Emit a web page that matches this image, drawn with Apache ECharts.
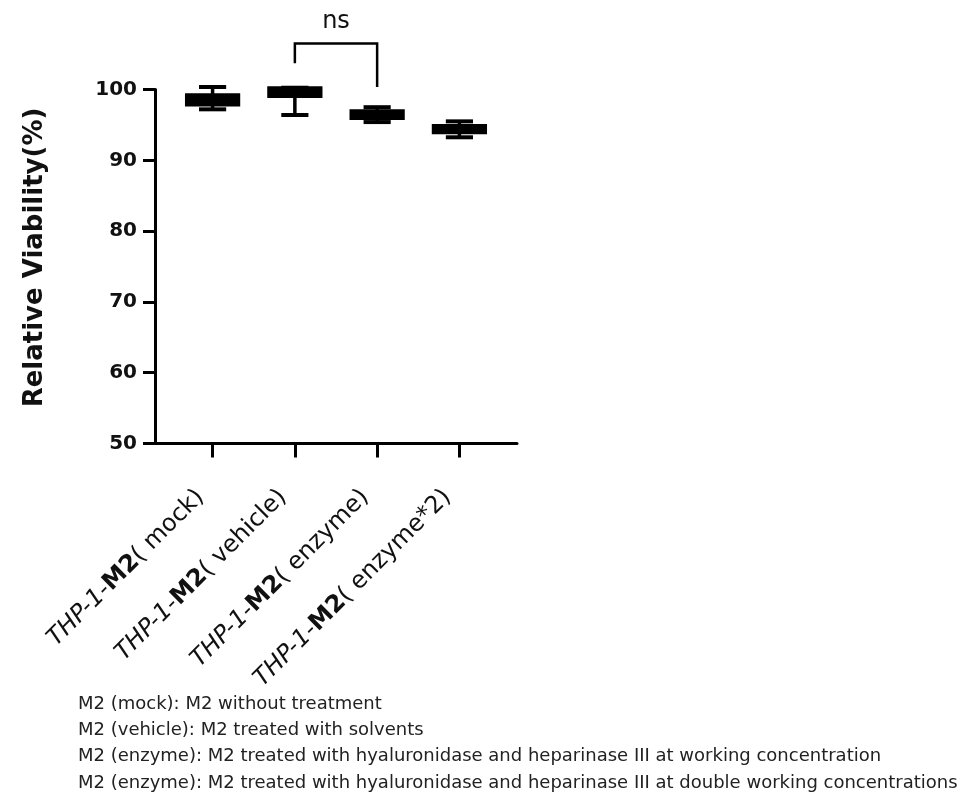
<!DOCTYPE html>
<html>
<head>
<meta charset="utf-8">
<title>Relative Viability</title>
<script src="https://cdn.jsdelivr.net/npm/echarts@6/dist/echarts.min.js"></script>
<style>
  html, body { margin: 0; padding: 0; background: #fff; }
  #chart { width: 968px; height: 807px; }
</style>
</head>
<body>
<div id="chart"></div>
<script>
// groups on the x axis
const groupNames = ['mock', 'vehicle', 'enzyme', 'enzyme*2'];
const groupPos = [0, 1, 2, 3];

// box and whisker values
const whiskerMin = [97.2, 96.4, 95.4, 93.25];
const boxQ1 = [97.8, 99.0, 95.9, 93.9];
const boxMedian = [98.5, 99.6, 96.4, 94.4];
const boxQ3 = [99.25, 100.25, 97.0, 94.9];
const whiskerMax = [100.35, 100.25, 97.5, 95.5];

// y ticks
const yTicks = [50, 60, 70, 80, 90, 100];

// significance bracket: groups compared, left foot, top, right foot
const bracketGroups = [1, 2];
const bracketLevels = [103.7, 106.5, 100.35];
const bracketText = 'ns';

const footnotes = [
  'M2 (mock): M2 without treatment',
  'M2 (vehicle): M2 treated with solvents',
  'M2 (enzyme): M2 treated with hyaluronidase and heparinase III at working concentration',
  'M2 (enzyme): M2 treated with hyaluronidase and heparinase III at double working concentrations'
];

const boxData = groupPos.map(function (x, i) {
  return [x, whiskerMin[i], boxQ1[i], boxMedian[i], boxQ3[i], whiskerMax[i]];
});

const chart = echarts.init(document.getElementById('chart'));

function renderBox(params, api) {
  const x = api.value(0);
  const pMin = api.coord([x, api.value(1)]);
  const pQ1 = api.coord([x, api.value(2)]);
  const pMed = api.coord([x, api.value(3)]);
  const pQ3 = api.coord([x, api.value(4)]);
  const pMax = api.coord([x, api.value(5)]);
  const half = api.size([0.635, 0])[0] / 2;
  const capHalf = api.size([0.33, 0])[0] / 2;
  const ink = { stroke: '#000', lineWidth: 3.5 };
  return {
    type: 'group',
    children: [
      { type: 'line', shape: { x1: pMin[0], y1: pMin[1], x2: pMax[0], y2: pMax[1] }, style: ink },
      { type: 'line', shape: { x1: pMin[0] - capHalf, y1: pMin[1], x2: pMin[0] + capHalf, y2: pMin[1] }, style: { stroke: '#000', lineWidth: 4 } },
      { type: 'line', shape: { x1: pMax[0] - capHalf, y1: pMax[1], x2: pMax[0] + capHalf, y2: pMax[1] }, style: { stroke: '#000', lineWidth: 4 } },
      {
        type: 'rect',
        shape: { x: pQ3[0] - half, y: pQ3[1], width: half * 2, height: pQ1[1] - pQ3[1] },
        style: { fill: '#000', stroke: '#000', lineWidth: 3 }
      },
      { type: 'line', shape: { x1: pMed[0] - half, y1: pMed[1], x2: pMed[0] + half, y2: pMed[1] }, style: ink }
    ]
  };
}

function renderBracket(params, api) {
  const a = api.coord([api.value(0), api.value(2)]);
  const top = api.coord([api.value(0), api.value(3)]);
  const topR = api.coord([api.value(1), api.value(3)]);
  const b = api.coord([api.value(1), api.value(4)]);
  return {
    type: 'group',
    children: [
      {
        type: 'polyline',
        shape: { points: [a, top, topR, b] },
        style: { stroke: '#000', lineWidth: 2.5, fill: null }
      },
      {
        type: 'text',
        x: (top[0] + topR[0]) / 2,
        y: top[1] - 10,
        style: {
          text: bracketText,
          fill: '#111',
          font: '24px "DejaVu Sans"',
          align: 'center',
          verticalAlign: 'bottom'
        }
      }
    ]
  };
}

const option = {
  animation: false,
  backgroundColor: '#fff',
  grid: { left: 155, right: 451, top: 89.5, bottom: 363.5 },
  xAxis: {
    type: 'value',
    min: -0.7,
    max: 3.7,
    splitLine: { show: false },
    axisLine: { show: true, onZero: false, lineStyle: { color: '#000', width: 3 } },
    axisTick: { show: true, customValues: groupPos, length: 14, lineStyle: { color: '#000', width: 3 } },
    axisLabel: {
      customValues: groupPos,
      rotate: 45,
      margin: 38,
      padding: [0, 17, 0, 0],
      formatter: function (v) {
        return '{i|THP-1-}{b|M2}{n|( ' + groupNames[Math.round(v)] + ')}';
      },
      rich: {
        i: { fontFamily: 'DejaVu Sans', fontStyle: 'italic', fontSize: 24, color: '#111' },
        b: { fontFamily: 'DejaVu Sans', fontWeight: 'bold', fontSize: 24, color: '#111' },
        n: { fontFamily: 'DejaVu Sans', fontSize: 24, color: '#111' }
      }
    }
  },
  yAxis: {
    type: 'value',
    min: 50,
    max: 100,
    interval: 10,
    name: 'Relative Viability(%)',
    nameLocation: 'middle',
    nameGap: 107,
    nameTextStyle: {
      fontFamily: 'DejaVu Sans',
      fontWeight: 'bold',
      fontSize: 26,
      color: '#111',
      padding: [0, 0, 0, 18]
    },
    splitLine: { show: false },
    axisLine: { show: true, onZero: false, lineStyle: { color: '#000', width: 3 } },
    axisTick: { show: true, length: 12, lineStyle: { color: '#000', width: 3 } },
    axisLabel: {
      margin: 18,
      fontFamily: 'DejaVu Sans',
      fontWeight: 'bold',
      fontSize: 20,
      color: '#111',
      customValues: yTicks
    }
  },
  series: [
    {
      type: 'custom',
      name: 'viability',
      renderItem: renderBox,
      encode: { x: 0, y: [1, 2, 3, 4, 5] },
      data: boxData,
      clip: false,
      z: 3
    },
    {
      type: 'custom',
      name: 'significance',
      renderItem: renderBracket,
      encode: { x: [0, 1], y: [2, 3, 4] },
      data: [[bracketGroups[0], bracketGroups[1]].concat(bracketLevels)],
      clip: false,
      z: 4
    }
  ],
  graphic: [
    {
      type: 'text',
      left: 78,
      top: 691,
      style: {
        text: footnotes.join('\n'),
        font: '18px "DejaVu Sans"',
        lineHeight: 26.3,
        fill: '#222'
      }
    }
  ]
};

chart.setOption(option);
</script>
</body>
</html>
